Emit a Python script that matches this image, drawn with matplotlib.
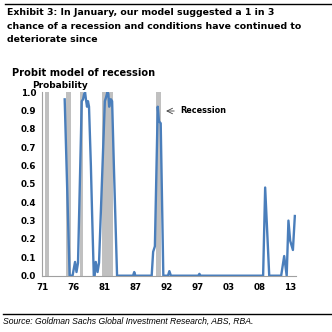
import matplotlib
matplotlib.use("Agg")
import matplotlib.pyplot as plt

# Probit recession probability (fractional years)
years = [1974.85, 1975.7, 1976.2, 1976.63, 1976.88, 1977.14, 1977.78, 1978.0,
         1978.2, 1978.35, 1978.5, 1978.69, 1978.85, 1979.03, 1979.35, 1979.55,
         1979.85, 1980.0, 1980.19, 1980.5, 1980.75, 1981.75, 1981.95, 1982.2,
         1982.35, 1982.5, 1982.65, 1982.8, 1983.0, 1983.3, 1983.5, 1983.85,
         1986.6, 1986.8, 1987.0, 1989.8, 1990.05, 1990.35, 1990.84, 1991.05,
         1991.35, 1991.8, 1992.6, 1992.84, 1993.1, 1997.8, 1998.0, 1998.2,
         2008.95, 2009.3, 2010.0, 2012.05, 2012.57, 2013.0, 2013.3, 2013.6,
         2014.07, 2014.4]
prob = [0.96, 0.0, 0.0, 0.075, 0.02, 0.07, 0.95, 0.96,
        0.99, 1.0, 0.96, 0.92, 0.95, 0.92, 0.6, 0.35,
        0.0, 0.0, 0.075, 0.02, 0.07, 0.95, 0.97, 1.0,
        0.99, 0.92, 0.96, 0.96, 0.95, 0.6, 0.38, 0.0,
        0.0, 0.02, 0.0, 0.0, 0.13, 0.16, 0.92, 0.84,
        0.83, 0.0, 0.0, 0.025, 0.0, 0.0, 0.01, 0.0,
        0.0, 0.48, 0.0, 0.0, 0.107, 0.0, 0.30, 0.19,
        0.14, 0.325]

# recession periods (start, end)
rec_start = [1971.46, 1975.15, 1977.4, 1981.3, 1990.55]
rec_end = [1972.15, 1975.9, 1978.0, 1983.2, 1991.36]

tick_pos = [1971 + 64 * k / 12 for k in range(9)]
tick_labels = ["71", "76", "81", "87", "92", "97", "03", "08", "13"]

BOLD = ["DejaVu Sans"]
plt.rcParams["font.family"] = ["Liberation Sans", "DejaVu Sans"]

fig = plt.figure(figsize=(3.32, 3.32), dpi=100)
ax = fig.add_axes([41.7 / 332, 56.3 / 332, 254.3 / 332, 183.7 / 332])

for s, e in zip(rec_start, rec_end):
    ax.axvspan(s, e, ymin=0, ymax=1, color="#c0c0c0", lw=0, zorder=1)

ax.plot(years, prob, color="#4a7ebb", lw=1.7, zorder=3, solid_joinstyle="round")

ax.set_xlim(1970.9, 2014.6)
ax.set_ylim(0, 1.0)
ax.set_xticks(tick_pos)
ax.set_xticklabels(tick_labels, fontweight="bold", fontsize=6.3, family=BOLD)
ax.set_yticks([i / 10 for i in range(11)])
ax.set_yticklabels([f"{i / 10:.1f}" for i in range(11)], fontweight="bold",
                   fontsize=6.3, family=BOLD)
ax.tick_params(axis="both", length=0, pad=4)
ax.tick_params(axis="x", pad=5)
for side in ["top", "right"]:
    ax.spines[side].set_visible(False)
for side in ["left", "bottom"]:
    ax.spines[side].set_color("#a0a0a0")
    ax.spines[side].set_linewidth(0.8)

ax.annotate("", xy=(163.3 / 332, 1 - 111 / 332), xytext=(177 / 332, 1 - 111 / 332),
            xycoords="figure fraction", textcoords="figure fraction",
            arrowprops=dict(arrowstyle="->", color="#404040", lw=0.6))
fig.text(180 / 332, 1 - 111 / 332, "Recession", fontsize=5.9, fontweight="bold",
         va="center", ha="left", family=BOLD)

# titles
title_lines = ["Exhibit 3: In January, our model suggested a 1 in 3",
               "chance of a recession and conditions have continued to",
               "deteriorate since"]
for i, line in enumerate(title_lines):
    fig.text(7 / 332, 1 - (12.7 + 13.4 * i) / 332, line, fontsize=6.75,
             fontweight="bold", va="center", ha="left", family=BOLD)
fig.text(12.3 / 332, 1 - 72.7 / 332, "Probit model of recession", fontsize=7.1,
         fontweight="bold", va="center", ha="left", family=BOLD)
fig.text(32 / 332, 1 - 85 / 332, "Probability", fontsize=6.5,
         fontweight="bold", va="center", ha="left", family=BOLD)
fig.text(3 / 332, 1 - 321 / 332,
         "Source: Goldman Sachs Global Investment Research, ABS, RBA.",
         fontsize=6.2, fontstyle="italic", va="center", ha="left")

fig.add_artist(plt.Line2D([5 / 332, 1], [1 - 4 / 332] * 2, color="black", lw=1.0))
fig.add_artist(plt.Line2D([3 / 332, 1], [1 - 314 / 332] * 2, color="black", lw=1.0))

fig.savefig("out.png", dpi=100)
